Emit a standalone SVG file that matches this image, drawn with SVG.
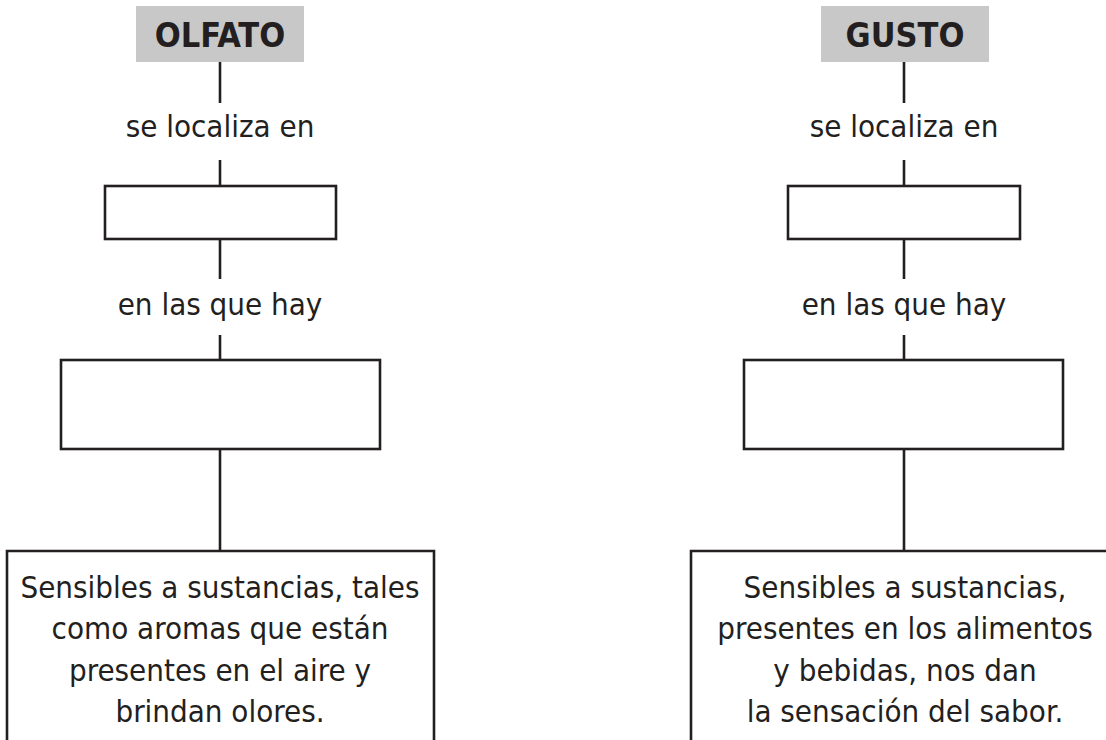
<svg xmlns="http://www.w3.org/2000/svg" width="1106" height="740" viewBox="0 0 1106 740">
<style>
.box{fill:#fff;stroke:#231f20;stroke-width:2.6}
.head{fill:#c8c8c8}
.ln{stroke:#231f20;stroke-width:2.6;fill:none}
.t{font-family:"DejaVu Sans Condensed","DejaVu Sans",sans-serif;font-size:31px;fill:#231f20;text-anchor:middle}
.h{font-family:"DejaVu Sans Condensed","DejaVu Sans",sans-serif;font-size:34px;font-weight:bold;fill:#231f20;text-anchor:middle}
</style>
<rect x="0" y="0" width="1106" height="740" fill="#fff"/>
<g id="connectors">
<line class="ln" x1="220" y1="62" x2="220" y2="103"/>
<line class="ln" x1="220" y1="160" x2="220" y2="186"/>
<line class="ln" x1="220" y1="239" x2="220" y2="279"/>
<line class="ln" x1="220" y1="335" x2="220" y2="360"/>
<line class="ln" x1="220" y1="449" x2="220" y2="551"/>
<line class="ln" x1="904" y1="62" x2="904" y2="103"/>
<line class="ln" x1="904" y1="160" x2="904" y2="186"/>
<line class="ln" x1="904" y1="239" x2="904" y2="279"/>
<line class="ln" x1="904" y1="335" x2="904" y2="360"/>
<line class="ln" x1="904" y1="449" x2="904" y2="551"/>
</g>
<g id="olfato">
<rect class="head" x="136" y="6" width="168" height="56"/>
<text class="h" x="220" y="47">OLFATO</text>
</g>
<g id="olfato-label1"><text class="t" x="220" y="137">se localiza en</text></g>
<g id="olfato-box1"><rect class="box" x="105" y="186" width="231" height="53"/></g>
<g id="olfato-label2"><text class="t" x="220" y="315">en las que hay</text></g>
<g id="olfato-box2"><rect class="box" x="61" y="360" width="319" height="89"/></g>
<g id="olfato-box3">
<path class="ln" d="M7,745 V551 H434 V745"/>
<text class="t" x="220" y="598">Sensibles a sustancias, tales</text>
<text class="t" x="220" y="639">como aromas que están</text>
<text class="t" x="220" y="681">presentes en el aire y</text>
<text class="t" x="220" y="722">brindan olores.</text>
</g>
<g id="gusto">
<rect class="head" x="821" y="6" width="168" height="56"/>
<text class="h" x="905" y="47">GUSTO</text>
</g>
<g id="gusto-label1"><text class="t" x="904" y="137">se localiza en</text></g>
<g id="gusto-box1"><rect class="box" x="788" y="186" width="232" height="53"/></g>
<g id="gusto-label2"><text class="t" x="904" y="315">en las que hay</text></g>
<g id="gusto-box2"><rect class="box" x="744" y="360" width="319" height="89"/></g>
<g id="gusto-box3">
<path class="ln" d="M691,745 V551 H1110"/>
<text class="t" x="905" y="598">Sensibles a sustancias,</text>
<text class="t" x="905" y="639">presentes en los alimentos</text>
<text class="t" x="905" y="681">y bebidas, nos dan</text>
<text class="t" x="905" y="722">la sensación del sabor.</text>
</g>
</svg>
